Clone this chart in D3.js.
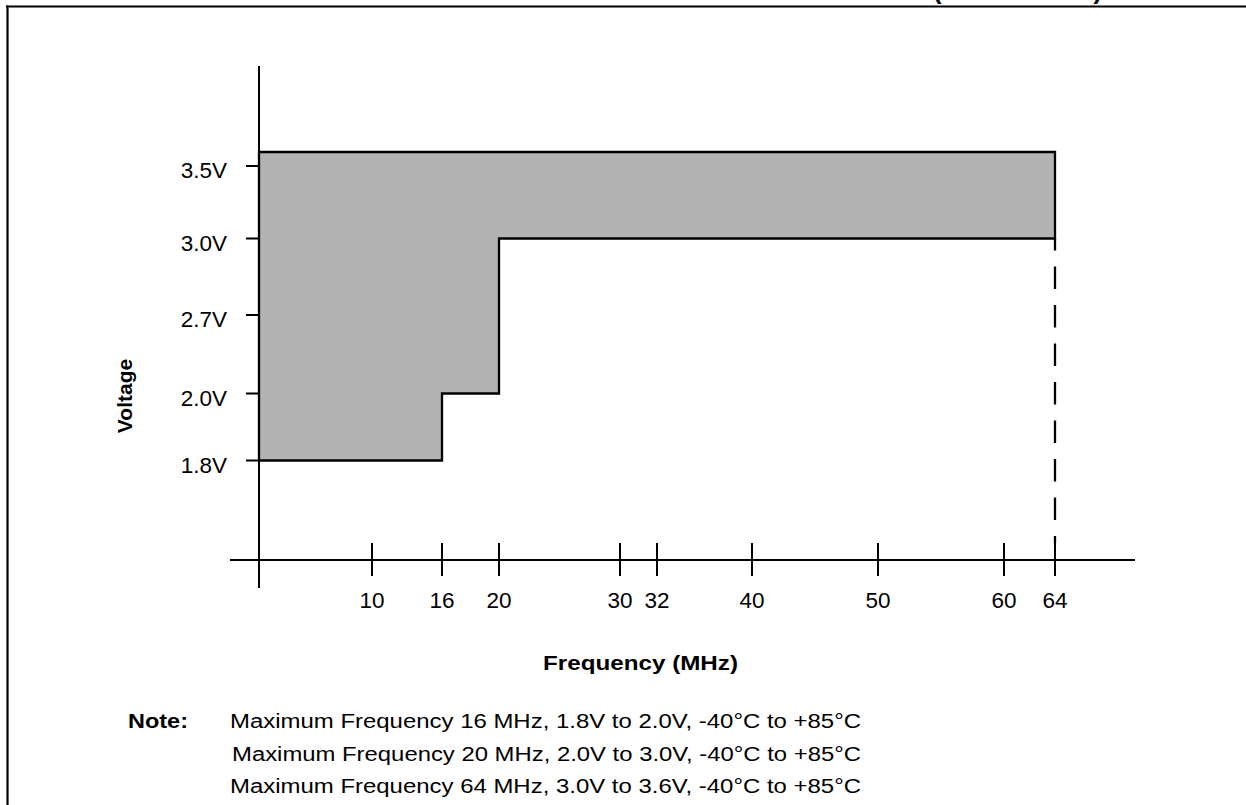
<!DOCTYPE html>
<html><head><meta charset="utf-8">
<script src="https://cdn.jsdelivr.net/npm/d3@7/dist/d3.min.js"></script>
<style>html,body{margin:0;padding:0;background:#fff;} svg{display:block;}</style>
</head><body>
<svg id="c" width="1246" height="805"></svg>
<script>
// ---- data ----
const freqTicks = [0, 10, 16, 20, 30, 32, 40, 50, 60, 64];
const freqTickLabels = ["", "10", "16", "20", "30", "32", "40", "50", "60", "64"];
const voltTicks = [1.8, 2.0, 2.7, 3.0, 3.5];
const voltTickLabels = ["1.8V", "2.0V", "2.7V", "3.0V", "3.5V"];
const voltTop = 3.6;
const envelopeFreq = [0, 64, 64, 20, 20, 16, 16, 0];
const envelopeVolt = [3.6, 3.6, 3.0, 3.0, 2.0, 2.0, 1.8, 1.8];
const dashedFreq = 64;
const dashedFromVolt = 3.0;
const xTitle = "Frequency (MHz)";
const yTitle = "Voltage";
const noteLabel = "Note:";
const notes = [
  "Maximum Frequency 16 MHz, 1.8V to 2.0V, -40°C to +85°C",
  "Maximum Frequency 20 MHz, 2.0V to 3.0V, -40°C to +85°C",
  "Maximum Frequency 64 MHz, 3.0V to 3.6V, -40°C to +85°C"
];
const header = "(CONTINUED)";

// ---- layout ----
const svg = d3.select("#c");
const FONT = "'Liberation Sans', Arial, Helvetica, sans-serif";
const axisY = 560, axisX = 259;

// hand-drawn (non-uniform) axes: piecewise-linear scales
const x = d3.scaleLinear()
  .domain(freqTicks)
  .range([259, 372, 442, 499, 620, 657, 752, 878, 1004, 1055]);
const y = d3.scaleLinear()
  .domain(voltTicks.concat([voltTop]))
  .range([460.5, 393.5, 315, 238.5, 166, 152]);

// frame
svg.append("line").attr("x1", 6).attr("x2", 1246).attr("y1", 6.5).attr("y2", 6.5)
  .attr("stroke", "#000").attr("stroke-width", 2.2);
svg.append("line").attr("x1", 7.5).attr("x2", 7.5).attr("y1", 5.5).attr("y2", 805)
  .attr("stroke", "#000").attr("stroke-width", 2.2);

// cut-off header (only the bottom of the parentheses shows, as in the reference)
svg.append("text").attr("x", 933).attr("y", -1.5)
  .attr("textLength", 169).attr("lengthAdjust", "spacingAndGlyphs")
  .style("font-family", FONT).style("font-weight", "bold").style("font-size", "25px")
  .text(header);

// envelope
const pts = envelopeFreq.map((f, i) => [x(f), y(envelopeVolt[i])]);
svg.append("path")
  .attr("d", d3.line()(pts) + "Z")
  .attr("fill", "#b3b3b3").attr("stroke", "#000").attr("stroke-width", 2.3)
  .attr("stroke-linejoin", "miter");

// dashed max-frequency line
svg.append("line")
  .attr("x1", x(dashedFreq)).attr("x2", x(dashedFreq))
  .attr("y1", y(dashedFromVolt)).attr("y2", axisY - 17)
  .attr("stroke", "#000").attr("stroke-width", 2.3)
  .attr("stroke-dasharray", "22.5,16").attr("stroke-dashoffset", 10.5);

// axes
svg.append("line").attr("x1", axisX).attr("x2", axisX).attr("y1", 66).attr("y2", 588)
  .attr("stroke", "#000").attr("stroke-width", 2);
svg.append("line").attr("x1", 230).attr("x2", 1135).attr("y1", axisY).attr("y2", axisY)
  .attr("stroke", "#000").attr("stroke-width", 2);

// x ticks + labels
svg.selectAll(".xt").data(freqTicks.filter(d => d > 0)).enter().append("line")
  .attr("x1", d => x(d)).attr("x2", d => x(d))
  .attr("y1", axisY - 17).attr("y2", axisY + 16)
  .attr("stroke", "#000").attr("stroke-width", 2);
svg.selectAll(".xl").data(freqTicks).enter().append("text")
  .attr("x", d => x(d)).attr("y", 608)
  .attr("text-anchor", "middle")
  .style("font-family", FONT).style("font-size", "22.5px")
  .text((d, i) => freqTickLabels[i]);

// y ticks + labels
svg.selectAll(".yt").data(voltTicks).enter().append("line")
  .attr("x1", 246).attr("x2", axisX).attr("y1", d => y(d)).attr("y2", d => y(d))
  .attr("stroke", "#000").attr("stroke-width", 2);
svg.selectAll(".yl").data(voltTicks).enter().append("text")
  .attr("x", 227).attr("y", d => y(d) + 12)
  .attr("text-anchor", "end")
  .style("font-family", FONT).style("font-size", "22.5px")
  .text((d, i) => voltTickLabels[i]);

// axis titles
svg.append("text")
  .attr("transform", "translate(132,396) rotate(-90)")
  .attr("text-anchor", "middle")
  .style("font-family", FONT).style("font-weight", "bold").style("font-size", "21px")
  .text(yTitle);
svg.append("text")
  .attr("x", 543).attr("y", 670)
  .attr("textLength", 195).attr("lengthAdjust", "spacingAndGlyphs")
  .style("font-family", FONT).style("font-weight", "bold").style("font-size", "20px")
  .text(xTitle);

// notes
svg.append("text")
  .attr("x", 128).attr("y", 728)
  .attr("textLength", 60).attr("lengthAdjust", "spacingAndGlyphs")
  .style("font-family", FONT).style("font-weight", "bold").style("font-size", "19.5px")
  .text(noteLabel);
const noteX = [230, 232, 230], noteW = [631, 629, 631], noteY = [728, 761, 793];
svg.selectAll(".nt").data(notes).enter().append("text")
  .attr("x", (d, i) => noteX[i]).attr("y", (d, i) => noteY[i])
  .attr("textLength", (d, i) => noteW[i]).attr("lengthAdjust", "spacingAndGlyphs")
  .style("font-family", FONT).style("font-size", "19.5px")
  .text(d => d);
</script>
</body></html>
